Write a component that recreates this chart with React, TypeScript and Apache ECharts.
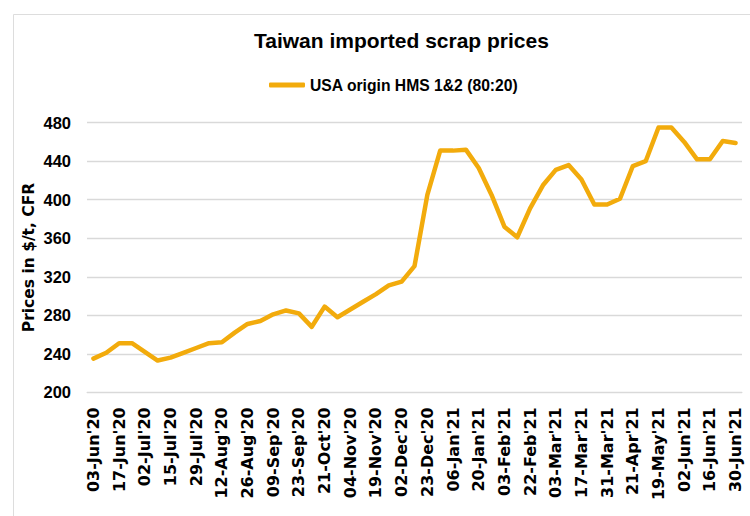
import React, { useEffect, useRef } from "react";
import * as echarts from "echarts";

const categories = [
  "03-Jun'20", "10-Jun'20", "17-Jun'20", "24-Jun'20", "02-Jul'20", "08-Jul'20",
  "15-Jul'20", "22-Jul'20", "29-Jul'20", "05-Aug'20", "12-Aug'20", "19-Aug'20",
  "26-Aug'20", "02-Sep'20", "09-Sep'20", "16-Sep'20", "23-Sep'20", "07-Oct'20",
  "21-Oct'20", "28-Oct'20", "04-Nov'20", "11-Nov'20", "19-Nov'20", "25-Nov'20",
  "02-Dec'20", "16-Dec'20", "23-Dec'20", "30-Dec'20", "06-Jan'21", "13-Jan'21",
  "20-Jan'21", "27-Jan'21", "03-Feb'21", "17-Feb'21", "22-Feb'21", "24-Feb'21",
  "03-Mar'21", "10-Mar'21", "17-Mar'21", "24-Mar'21", "31-Mar'21", "07-Apr'21",
  "21-Apr'21", "05-May'21", "19-May'21", "26-May'21", "02-Jun'21", "09-Jun'21",
  "16-Jun'21", "23-Jun'21", "30-Jun'21",
];

const usaHms = [
  235, 241, 251, 251, 242, 233, 236, 241, 246, 251, 252, 262, 271, 274, 281, 285,
  282, 268, 289, 278, 286, 294, 302, 311, 315, 331, 405, 451, 451, 452, 433, 405,
  372, 361, 391, 415, 431, 436, 421, 395, 395, 401, 435, 440, 475, 475, 460, 442,
  442, 461, 459,
];

const seriesName = "USA origin HMS 1&2 (80:20)";
const titleText = "Taiwan imported scrap prices";
const yAxisName = "Prices in $/t, CFR";

const NARROW = "'Liberation Sans Narrow', 'Liberation Sans', Arial, sans-serif";
const WIDE = "'DejaVu Sans', Verdana, sans-serif";
const GOLD = "#F2AB0C";
const GRID = "#D9D9D9";

export default function App() {
  const ref = useRef<HTMLDivElement>(null);
  useEffect(() => {
    if (!ref.current) return;
    const chart = echarts.init(ref.current, null, { renderer: "svg" });
    chart.setOption({
      animation: false,
      backgroundColor: "#ffffff",
      title: {
        text: titleText,
        left: 254,
        top: 30,
        padding: 0,
        textStyle: { fontFamily: NARROW, fontWeight: "bold", fontSize: 21, color: "#000" },
      },
      legend: {
        data: [seriesName],
        left: 269,
        top: 77,
        padding: 0,
        icon: "roundRect",
        itemWidth: 36,
        itemHeight: 5,
        itemGap: 5,
        textStyle: { fontFamily: NARROW, fontWeight: "bold", fontSize: 15.7, color: "#000" },
      },
      graphic: [
        {
          type: "rect",
          shape: { x: 13.5, y: 14.5, width: 800, height: 600 },
          style: { fill: "none", stroke: "#DDDDDD", lineWidth: 1 },
          silent: true,
        },
      ],
      grid: { left: 87, right: 8, top: 122.7, bottom: 123.7 },
      xAxis: {
        type: "category",
        data: categories,
        boundaryGap: true,
        axisLine: { show: true, lineStyle: { color: GRID, width: 1 } },
        axisTick: { show: false },
        axisLabel: {
          interval: 1,
          rotate: 90,
          margin: 15,
          fontFamily: WIDE,
          fontWeight: "bold",
          fontSize: 16,
          color: "#000",
        },
      },
      yAxis: {
        type: "value",
        min: 200,
        max: 480,
        interval: 40,
        name: yAxisName,
        nameLocation: "middle",
        nameRotate: 90,
        nameGap: 50,
        nameMoveOverlap: false,
        nameTextStyle: { fontFamily: WIDE, fontWeight: "bold", fontSize: 15.5, color: "#000" },
        axisLine: { show: false },
        axisTick: { show: false },
        axisLabel: {
          margin: 16,
          fontFamily: NARROW,
          fontWeight: "bold",
          fontSize: 16.5,
          color: "#000",
        },
        splitLine: { lineStyle: { color: GRID, width: 1.3 } },
      },
      series: [
        {
          name: seriesName,
          type: "line",
          data: usaHms,
          symbol: "none",
          color: GOLD,
          lineStyle: { color: GOLD, width: 4.5, cap: "round", join: "round" },
        },
      ],
    });
    return () => chart.dispose();
  }, []);
  return (
    <div
      ref={ref}
      style={{ position: "fixed", left: 0, top: 0, width: 750, height: 516 }}
    />
  );
}
